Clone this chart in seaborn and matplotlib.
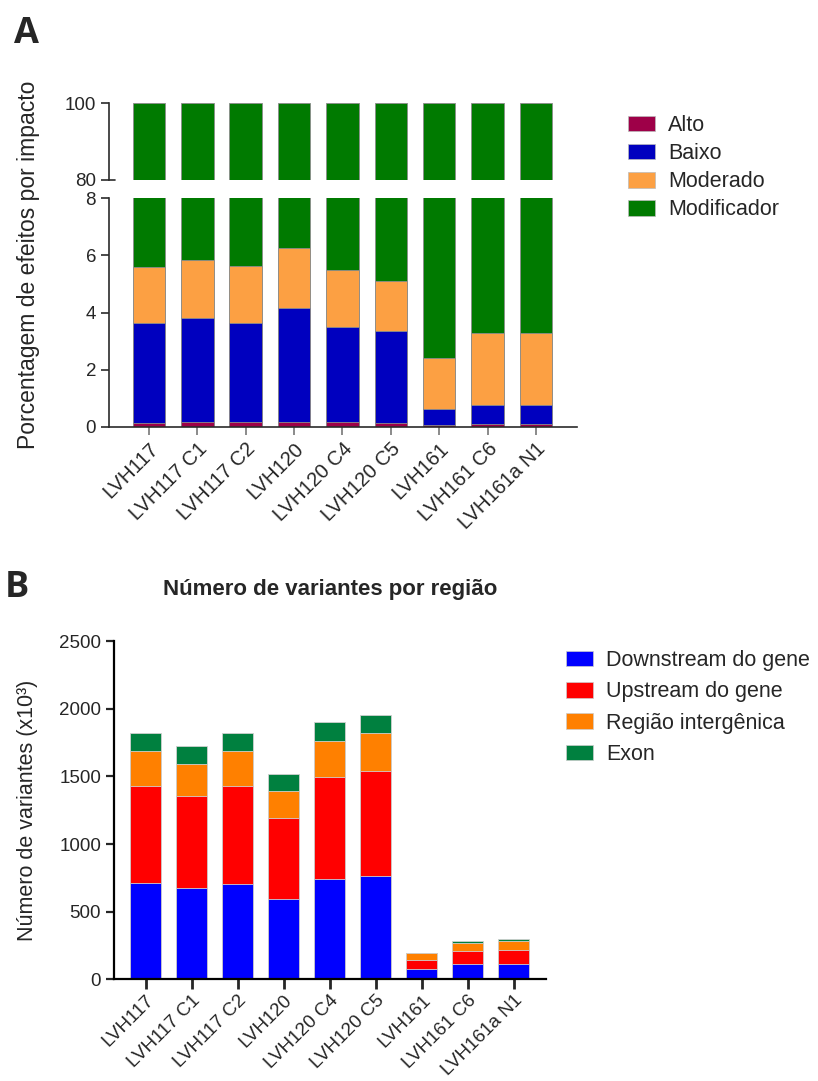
import numpy as np
import matplotlib
matplotlib.use('Agg')
import matplotlib.pyplot as plt
import seaborn as sns
from matplotlib.patches import Patch

amostras = ['LVH117', 'LVH117 C1', 'LVH117 C2', 'LVH120', 'LVH120 C4',
            'LVH120 C5', 'LVH161', 'LVH161 C6', 'LVH161a N1']

# painel A - porcentagem de efeitos por impacto
impactos = ['Alto', 'Baixo', 'Moderado', 'Modificador']
alto = [0.14, 0.17, 0.17, 0.17, 0.17, 0.14, 0.06, 0.10, 0.10]
baixo = [3.48, 3.63, 3.48, 3.98, 3.34, 3.23, 0.58, 0.68, 0.68]
moderado = [1.97, 2.05, 1.99, 2.09, 1.96, 1.74, 1.77, 2.49, 2.49]
modificador = [94.41, 94.15, 94.36, 93.76, 94.53, 94.89, 97.59, 96.73, 96.73]
cores_a = ['#9e0048', '#0000bf', '#fca043', '#007a00']

# painel B - numero de variantes por regiao (x10^3)
regioes = ['Downstream do gene', 'Upstream do gene', 'Região intergênica', 'Exon']
downstream = [714, 677, 709, 593, 741, 766, 74, 111, 111]
upstream = [717, 680, 722, 599, 752, 771, 71, 103, 110]
intergenica = [254, 232, 254, 202, 268, 283, 52, 59, 67]
exon = [135, 135, 135, 121, 143, 136, 2, 15, 11]
cores_b = ['#0000ff', '#ff0000', '#ff8000', '#00803f']

sns.set_style('ticks')
plt.rcParams['font.family'] = ['Liberation Sans', 'DejaVu Sans']


def empilhar(ax, camadas, cores, borda):
    # barras empilhadas: desenha do topo acumulado para baixo
    topo = np.cumsum(np.array(camadas, dtype=float), axis=0)
    for i in range(len(camadas) - 1, -1, -1):
        sns.barplot(x=amostras, y=topo[i], color=cores[i], width=0.67,
                    saturation=1, edgecolor=borda, linewidth=0.6, ax=ax)


fig = plt.figure(figsize=(8.18, 10.81), dpi=100)

# ---- painel A (eixo quebrado) ----
ax_top = fig.add_axes([0.1336, 0.8335, 0.5718, 0.0712])
ax_bot = fig.add_axes([0.1336, 0.605, 0.5718, 0.2118])
camadas_a = [alto, baixo, moderado, modificador]
for ax in (ax_top, ax_bot):
    empilhar(ax, camadas_a, cores_a, '#8c8c8c')
    ax.set_xlim(-0.82, 8.85)
    ax.set_xlabel('')
    ax.set_ylabel('')
    for s in ax.spines.values():
        s.set_color('#2b2b2b')
        s.set_linewidth(1.2)
    ax.tick_params(axis='y', labelsize=13.5, length=6, width=1.2, color='#2b2b2b')

ax_top.set_ylim(80, 100)
ax_top.set_yticks([80, 100])
ax_top.set_xticks([])
sns.despine(ax=ax_top, bottom=True)
ax_top.plot([0, 0.012], [0, 0], color='#2b2b2b', lw=1.2,
            transform=ax_top.transAxes, clip_on=False)

ax_bot.set_ylim(0, 8)
ax_bot.set_yticks([0, 2, 4, 6, 8])
sns.despine(ax=ax_bot)
ax_bot.tick_params(axis='x', length=6, width=1.2, color='#777777',
                   labelsize=14.5, pad=3)
plt.setp(ax_bot.get_xticklabels(), rotation=45, ha='right', rotation_mode='anchor')

fig.text(29 / 818, 1 - 265 / 1081, 'Porcentagem de efeitos por impacto',
         rotation=90, ha='center', va='center', fontsize=16.5)
fig.text(14 / 818, 1 - 43 / 1081, 'A', fontsize=26, fontweight='bold',
         family=['Open Sans', 'DejaVu Sans'])

fig.legend(handles=[Patch(facecolor=c, edgecolor='#bbbbbb', lw=0.5, label=l)
                    for c, l in zip(cores_a, impactos)],
           loc='upper left', bbox_to_anchor=(628 / 818, 1 - 115 / 1081),
           frameon=False, fontsize=15.5, handlelength=1.25, handleheight=0.75,
           handletextpad=0.6, labelspacing=0.33, borderpad=0, borderaxespad=0)

# ---- painel B ----
ax_b = fig.add_axes([0.1397, 0.0939, 0.5274, 0.3131])
empilhar(ax_b, [downstream, upstream, intergenica, exon], cores_b, '#d0d0d0')
ax_b.set_xlim(-0.68, 8.69)
ax_b.set_ylim(0, 2500)
ax_b.set_yticks([0, 500, 1000, 1500, 2000, 2500])
sns.despine(ax=ax_b)
for s in ax_b.spines.values():
    s.set_color('black')
    s.set_linewidth(1.6)
ax_b.tick_params(axis='y', labelsize=13.5, length=6, width=1.6)
ax_b.tick_params(axis='x', labelsize=13.6, length=7, width=2, pad=2)
plt.setp(ax_b.get_xticklabels(), rotation=45, ha='right', rotation_mode='anchor')
ax_b.set_xlabel('')
ax_b.set_ylabel('')
ax_b.set_title('Número de variantes por região', fontsize=16,
               fontweight='bold', pad=33)

fig.text(28 / 818, 1 - 810 / 1081, 'Número de variantes (x10³)',
         rotation=90, ha='center', va='center', fontsize=15.5)
fig.text(5 / 818, 1 - 597 / 1081, 'B', fontsize=26, fontweight='bold',
         family=['Open Sans', 'DejaVu Sans'])

fig.legend(handles=[Patch(facecolor=c, edgecolor='#cccccc', lw=0.5, label=l)
                    for c, l in zip(cores_b, regioes)],
           loc='upper left', bbox_to_anchor=(566 / 818, 1 - 650 / 1081),
           frameon=False, fontsize=15.5, handlelength=1.25, handleheight=0.75,
           handletextpad=0.6, labelspacing=0.48, borderpad=0, borderaxespad=0)

fig.savefig('out.png', dpi=100)
plt.close(fig)
